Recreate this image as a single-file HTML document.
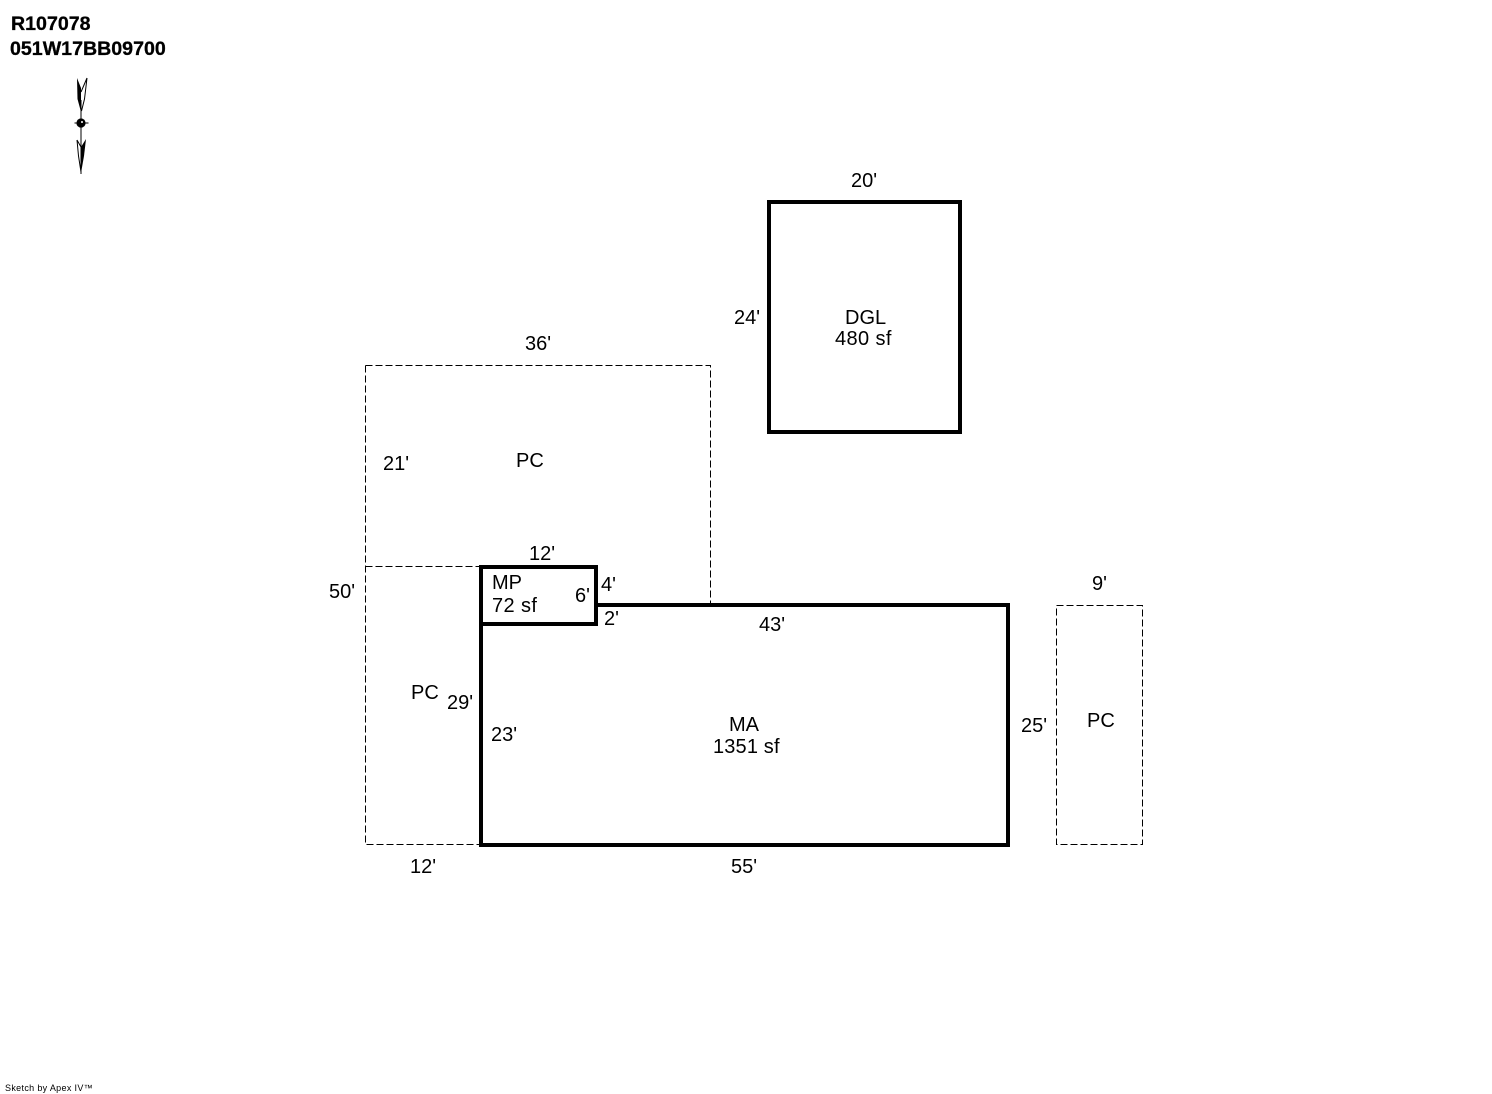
<!DOCTYPE html>
<html>
<head>
<meta charset="utf-8">
<style>
html,body{margin:0;padding:0;background:#fff;}
svg{display:block;}
text{font-family:"Liberation Sans",Arial,sans-serif;font-size:20px;fill:#000;}
</style>
</head>
<body>
<svg width="1492" height="1094" viewBox="0 0 1492 1094" xmlns="http://www.w3.org/2000/svg">
<rect width="1492" height="1094" fill="#fff"/>
<g fill="none" stroke="#000" stroke-width="1" stroke-dasharray="7 3" shape-rendering="crispEdges">
<path d="M365.5 365.5H710.5V604"/>
<path d="M365.5 365.5V844.5H480"/>
<path d="M365.5 566.5H480"/>
<rect x="1056.5" y="605.5" width="86" height="239"/>
</g>
<g fill="none" stroke="#000" stroke-width="4" shape-rendering="crispEdges">
<rect x="769" y="202" width="191" height="230"/>
<path d="M596 605H1008V845H481V624"/>
<rect x="481" y="567" width="115" height="57"/>
</g>
<text x="11" y="30" style="font-size:19.6px;font-weight:bold;stroke:#000;stroke-width:.3px">R107078</text>
<text x="10" y="55" style="font-size:19.6px;font-weight:bold;stroke:#000;stroke-width:.3px">051W17BB09700</text>
<text x="851" y="187">20'</text>
<text x="734" y="324">24'</text>
<text x="845" y="324">DGL</text>
<text x="835" y="345" style="letter-spacing:.4px">480 sf</text>
<text x="525" y="350">36'</text>
<text x="383" y="470">21'</text>
<text x="516" y="467">PC</text>
<text x="529" y="560">12'</text>
<text x="329" y="598">50'</text>
<text x="492" y="589">MP</text>
<text x="492" y="612" style="letter-spacing:.4px">72 sf</text>
<text x="575" y="602">6'</text>
<text x="601" y="591">4'</text>
<text x="604" y="625">2'</text>
<text x="759" y="631">43'</text>
<text x="1092" y="590">9'</text>
<text x="411" y="699">PC</text>
<text x="447" y="709">29'</text>
<text x="491" y="741">23'</text>
<text x="729" y="731">MA</text>
<text x="713" y="753" style="letter-spacing:.15px">1351 sf</text>
<text x="1021" y="732">25'</text>
<text x="1087" y="727">PC</text>
<text x="410" y="873">12'</text>
<text x="731" y="873">55'</text>
<text x="5" y="1091" style="font-size:9px;letter-spacing:.33px">Sketch by Apex IV™</text>
<path d="M81 100V174" fill="none" stroke="#000" stroke-width="1"/>
<path d="M77 78L81 88V112L77.5 99Z" fill="#000"/>
<path d="M87 78L81 92M87 78L84.5 99L81.5 111" fill="none" stroke="#000" stroke-width="1"/>
<circle cx="81" cy="123" r="4.6" fill="#000"/>
<path d="M74.5 123H88.5" fill="none" stroke="#000" stroke-width="1"/>
<circle cx="82" cy="122" r="1" fill="#fff"/>
<path d="M86 139L81 147V173L84 156Z" fill="#000"/>
<path d="M77 140L81 147M77 140L78.5 156L81 172" fill="none" stroke="#000" stroke-width="1"/>
</svg>
</body>
</html>
